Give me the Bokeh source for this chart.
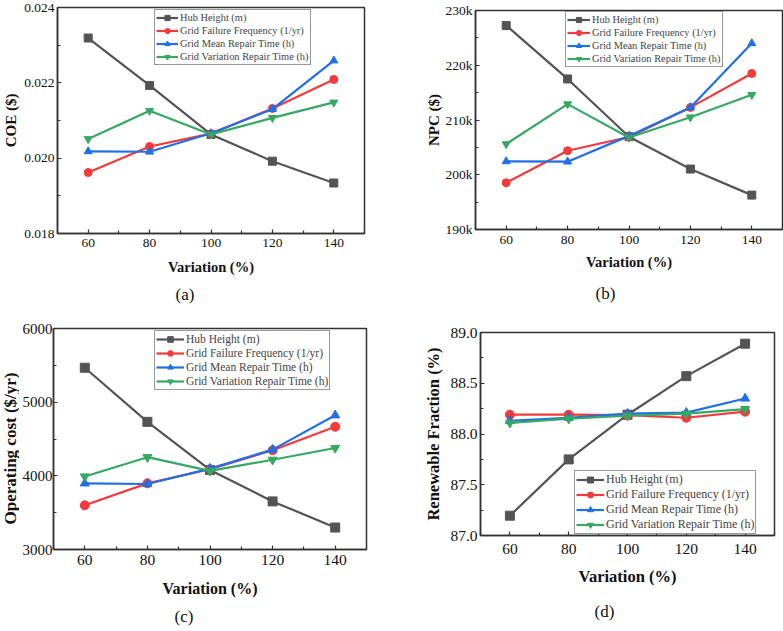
import math

from bokeh.plotting import figure
from bokeh.layouts import column, row
from bokeh.models import (FixedTicker, Legend, LegendItem, Range1d, Title,
                          PrintfTickFormatter)
from bokeh.core.properties import value
from bokeh.embed import file_html
from bokeh.resources import INLINE

# ---- data -------------------------------------------------------------
variation = [60, 80, 100, 120, 140]

series_names = ["Hub Height (m)", "Grid Failure Frequency (1/yr)",
                "Grid Mean Repair Time (h)", "Grid Variation Repair Time (h)"]

coe_hub = [0.02319, 0.02193, 0.02063, 0.01992, 0.01934]
coe_fail = [0.01962, 0.02031, 0.02065, 0.02132, 0.02209]
coe_mean = [0.02018, 0.02017, 0.02066, 0.02130, 0.02259]
coe_var = [0.02051, 0.02126, 0.02063, 0.02107, 0.02148]

npc_hub = [227260, 217500, 206950, 201040, 196280]
npc_fail = [198540, 204390, 206900, 212300, 218500]
npc_mean = [202440, 202380, 207100, 212300, 224000]
npc_var = [205600, 212900, 206800, 210500, 214600]

op_hub = [5467, 4733, 4080, 3653, 3298]
op_fail = [3600, 3898, 4089, 4347, 4667]
op_mean = [3898, 3889, 4098, 4356, 4822]
op_var = [3991, 4253, 4067, 4218, 4378]

rf_hub = [87.195, 87.75, 88.19, 88.57, 88.89]
rf_fail = [88.19, 88.19, 88.185, 88.16, 88.22]
rf_mean = [88.13, 88.16, 88.20, 88.21, 88.35]
rf_var = [88.11, 88.15, 88.18, 88.20, 88.245]

x_ticks = [60, 80, 100, 120, 140]
x_minor = [50, 70, 90, 110, 130, 150]

coe_ticks = [0.018, 0.020, 0.022, 0.024]
coe_minor = [0.019, 0.021, 0.023]
npc_ticks = [190000, 200000, 210000, 220000, 230000]
npc_minor = [195000, 205000, 215000, 225000]
npc_tick_labels = ["190k", "200k", "210k", "220k", "230k"]
op_ticks = [3000, 4000, 5000, 6000]
op_minor = [3500, 4500, 5500]
rf_ticks = [87.0, 87.5, 88.0, 88.5, 89.0]
rf_minor = [87.25, 87.75, 88.25, 88.75]

colors = ["#545454", "#f23a3a", "#1f6fe6", "#35a863"]
markers = ["square", "circle", "triangle", "inverted_triangle"]

SERIF = "Liberation Serif"
AX = "#333333"
INK = "#111111"


def panel(width, height, borders, y_range, y_ticks, y_minor, series,
          tick_px, x_std, y_std, legend_px, row_h, legend_loc, glyph_w,
          msize, ylabel, ylabel_px, ylab_std, xlabel_px, xlab_std,
          caption, cap_offset, cap_std, fmt=None, overrides=None,
          ytick_px=None):
    left, right, top, bottom = borders
    p = figure(width=width, height=height, output_backend="svg",
               toolbar_location=None, title=None, x_range=Range1d(50, 150),
               y_range=Range1d(*y_range), min_border_left=left,
               min_border_right=right, min_border_top=top,
               min_border_bottom=bottom)
    # each panel keeps its own frame position inside the rows
    if hasattr(p, "frame_align"):
        p.frame_align = False
    p.grid.visible = False
    p.outline_line_color = AX
    p.outline_line_width = 1.5
    p.background_fill_color = "white"
    p.border_fill_color = "white"

    p.xaxis.ticker = FixedTicker(ticks=x_ticks, minor_ticks=x_minor)
    p.yaxis.ticker = FixedTicker(ticks=y_ticks, minor_ticks=y_minor)
    if fmt:
        p.yaxis.formatter = PrintfTickFormatter(format=fmt)
    if overrides:
        p.yaxis.major_label_overrides = overrides
    p.xaxis.axis_label = "Variation (%)"
    if ylabel:
        p.yaxis.axis_label = ylabel
    for ax in (p.xaxis, p.yaxis):
        ax.axis_line_color = AX
        ax.axis_line_width = 1.5
        ax.major_tick_line_color = AX
        ax.minor_tick_line_color = AX
        ax.major_tick_line_width = 1.2
        ax.minor_tick_line_width = 1.2
        ax.major_tick_in = 4
        ax.major_tick_out = 0
        ax.minor_tick_in = 3
        ax.minor_tick_out = 0
        ax.major_label_text_font = SERIF
        ax.major_label_text_font_size = f"{tick_px}px"
        ax.major_label_text_color = INK
        ax.axis_label_text_font = SERIF
        ax.axis_label_text_font_style = "bold"
        ax.axis_label_text_color = INK
    if ytick_px:
        p.yaxis.major_label_text_font_size = f"{ytick_px}px"
    p.xaxis.axis_label_text_font_size = f"{xlabel_px}px"
    p.yaxis.axis_label_text_font_size = f"{ylabel_px}px"
    p.xaxis.major_label_standoff = x_std
    p.yaxis.major_label_standoff = y_std
    p.xaxis.axis_label_standoff = xlab_std
    p.yaxis.axis_label_standoff = ylab_std

    items = []
    for name, ys, c, m in zip(series_names, series, colors, markers):
        ln = p.line(variation, ys, line_color=c, line_width=2.2)
        sc = p.scatter(variation, ys, marker=m, size=msize, fill_color=c,
                       line_color=c)
        items.append(LegendItem(label=name, renderers=[ln, sc]))
    leg = Legend(items=items, location=legend_loc, orientation="vertical",
                 label_text_font=SERIF, label_text_font_size=f"{legend_px}px",
                 label_height=row_h, glyph_height=row_h, glyph_width=glyph_w,
                 label_standoff=2, spacing=0, padding=1, margin=0,
                 border_line_color=AX, border_line_width=1.2,
                 background_fill_color="white", background_fill_alpha=1.0)
    p.add_layout(leg)

    p.add_layout(Title(text=caption, align="left", offset=cap_offset,
                       standoff=cap_std, text_font=SERIF,
                       text_font_style="normal", text_font_size="17px",
                       text_color=INK), "below")
    return p


def side_label(text, width, height, cx, cy, size):
    """Narrow strip holding a rotated axis title, set beside a panel."""
    s = figure(width=width, height=height, output_backend="svg",
               toolbar_location=None, title=None, x_axis_type=None,
               y_axis_type=None, x_range=Range1d(0, width),
               y_range=Range1d(0, height), min_border=0)
    if hasattr(s, "frame_align"):
        s.frame_align = False
    s.grid.visible = False
    s.outline_line_color = None
    s.background_fill_color = "white"
    s.border_fill_color = "white"
    s.text(x=[cx], y=[height - cy], text=[text], angle=math.pi / 2,
           text_align="center", text_baseline="middle",
           text_font=value(SERIF), text_font_style="bold",
           text_font_size=f"{size}px", text_color=INK)
    return s


pa = panel(392, 320, (56, 28, 7, 87), (0.018, 0.024), coe_ticks, coe_minor,
           [coe_hub, coe_fail, coe_mean, coe_var], 13.5, 5, 3, 10.4, 13,
           (97, 168), 22, 8, "COE ($)", 15, 2, 14.5, 9,
           "(a)", 118, 11, fmt="%.3f")
pb = panel(391, 320, (83, 1, 10, 91), (190000, 230000), npc_ticks, npc_minor,
           [npc_hub, npc_fail, npc_mean, npc_var], 13.5, 6, 3, 10.4, 13,
           (90, 162), 23, 8, "NPC ($)", 15, 1, 14.5, 7,
           "(b)", 120, 18,
           overrides={t: s for t, s in zip(npc_ticks, npc_tick_labels)})

LAB_W = 19
lab_c = side_label("Operating cost ($/yr)", LAB_W, 311, 9.5, 128, 17)
pc = panel(392 - LAB_W, 311, (53 - LAB_W, 26, 8, 81), (3000, 6000),
           op_ticks, op_minor, [op_hub, op_fail, op_mean, op_var], 15.5, 5,
           1, 11.5, 14, (101, 159), 28, 9, None, 16, 0, 16, 12,
           "(c)", 121, 11, ytick_px=15)
pd_ = panel(391, 311, (88, 9, 12, 90), (87.0, 89.0), rf_ticks, rf_minor,
            [rf_hub, rf_fail, rf_mean, rf_var], 15.5, 8, 3, 12, 15,
            (94, 1), 28, 9, "Renewable Fraction (%)", 16.5, 4, 16.5, 10,
            "(d)", 114, 22, fmt="%.1f")

layout = column(row(pa, pb), row(lab_c, pc, pd_))
open("out.html", "w").write(file_html(layout, INLINE))
